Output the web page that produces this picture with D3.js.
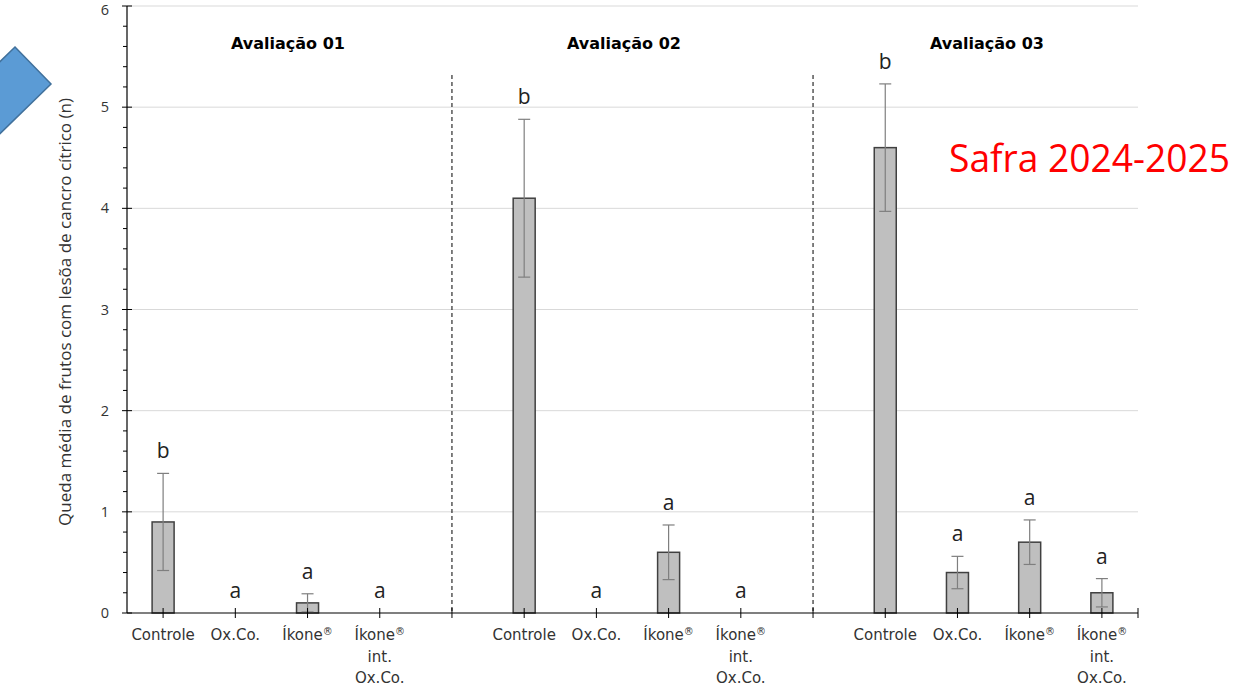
<!DOCTYPE html>
<html><head><meta charset="utf-8">
<script src="https://cdn.jsdelivr.net/npm/d3@7"></script>
<style>body{margin:0;background:#fff}svg{display:block}</style>
</head><body>
<svg id="chart" width="1254" height="691"></svg>
<script>
// ---- data ----
const groups = ["Avaliação 01", "Avaliação 02", "Avaliação 03"];
const treatments = ["Controle", "Ox.Co.", "Íkone®", "Íkone® int. Ox.Co."];
const treatmentLines = [["Controle"], ["Ox.Co."], ["Íkone®"], ["Íkone®", "int.", "Ox.Co."]];
const means01 = [0.9, 0, 0.1, 0];
const means02 = [4.1, 0, 0.6, 0];
const means03 = [4.6, 0.4, 0.7, 0.2];
const err01 = [0.48, 0, 0.09, 0];
const err02 = [0.78, 0, 0.27, 0];
const err03 = [0.63, 0.16, 0.22, 0.14];
const letters01 = ["b", "a", "a", "a"];
const letters02 = ["b", "a", "a", "a"];
const letters03 = ["b", "a", "a", "a"];
const yTicks = [0, 1, 2, 3, 4, 5, 6];
const yLabel = "Queda média de frutos com lesõa de cancro cítrico (n)";
const watermark = "Safra 2024-2025";

const meansAll = [means01, means02, means03];
const errAll = [err01, err02, err03];
const lettersAll = [letters01, letters02, letters03];

// ---- layout ----
const svg = d3.select("#chart");
const pLeft = 127, pRight = 1138, pTop = 6, pBottom = 613;

const slots = [];
groups.forEach((g, gi) => {
  treatments.forEach((t, ti) => slots.push(`${gi}-${ti}`));
  if (gi < groups.length - 1) slots.push(`gap${gi}`);
});
const x = d3.scaleBand().domain(slots).range([pLeft, pRight]).padding(0);
const y = d3.scaleLinear().domain([0, 6]).range([pBottom, pTop]);
const cx = k => x(k) + x.bandwidth() / 2;

const rows = [];
groups.forEach((g, gi) => treatments.forEach((t, ti) => rows.push({
  key: `${gi}-${ti}`, gi, ti, v: meansAll[gi][ti], e: errAll[gi][ti], l: lettersAll[gi][ti]
})));

// blue diamond shape
const sq = [[15, 47], [51, 84], [-23, 156], [-59, 119]];
svg.append("path").attr("d", d3.line()(sq) + "Z")
  .attr("fill", "#5B9BD5").attr("stroke", "#41719C").attr("stroke-width", 1.5);

// gridlines
svg.append("g").selectAll("line").data(yTicks.filter(d => d > 0)).join("line")
  .attr("x1", pLeft).attr("x2", pRight).attr("y1", d => y(d)).attr("y2", d => y(d))
  .attr("stroke", "#D9D9D9").attr("stroke-width", 1);

// dashed separators
svg.append("g").selectAll("line").data(slots.filter(s => s.startsWith("gap"))).join("line")
  .attr("x1", d => cx(d)).attr("x2", d => cx(d)).attr("y1", 75).attr("y2", pBottom)
  .attr("stroke", "#000").attr("stroke-width", 1).attr("stroke-dasharray", "4,3");

// bars
svg.append("g").selectAll("rect").data(rows.filter(d => d.v > 0)).join("rect")
  .attr("x", d => cx(d.key) - 11).attr("width", 22)
  .attr("y", d => y(d.v)).attr("height", d => y(0) - y(d.v))
  .attr("fill", "#BFBFBF").attr("stroke", "#404040").attr("stroke-width", 1.5);

// error bars
const eb = svg.append("g").attr("stroke", "#7F7F7F").attr("stroke-width", 1.2);
rows.filter(d => d.e > 0).forEach(d => {
  const c = cx(d.key);
  eb.append("line").attr("x1", c).attr("x2", c).attr("y1", y(d.v + d.e)).attr("y2", y(d.v - d.e));
  eb.append("line").attr("x1", c - 6).attr("x2", c + 6).attr("y1", y(d.v + d.e)).attr("y2", y(d.v + d.e));
  eb.append("line").attr("x1", c - 6).attr("x2", c + 6).attr("y1", y(d.v - d.e)).attr("y2", y(d.v - d.e));
});

// letters
svg.append("g").selectAll("text").data(rows).join("text")
  .attr("x", d => cx(d.key)).attr("y", d => y(d.v + d.e) - 15)
  .attr("text-anchor", "middle").attr("font-family", "Open Sans, sans-serif")
  .attr("font-size", 21).attr("fill", "#222").text(d => d.l);

// y axis
const ax = svg.append("g").attr("stroke", "#000");
ax.append("line").attr("x1", pLeft).attr("x2", pLeft).attr("y1", pTop).attr("y2", pBottom).attr("stroke-width", 1.2);
yTicks.forEach(t => ax.append("line").attr("x1", pLeft - 5).attr("x2", pLeft + 5).attr("y1", y(t)).attr("y2", y(t)));
d3.range(0, 30).filter(i => i % 5 !== 0).forEach(i => {
  const v = i * 0.2;
  ax.append("line").attr("x1", pLeft - 4).attr("x2", pLeft).attr("y1", y(v)).attr("y2", y(v));
});
svg.append("g").selectAll("text").data(yTicks).join("text")
  .attr("x", pLeft - 18).attr("y", d => Math.max(y(d) + 5, 15)).attr("text-anchor", "end")
  .attr("font-family", "Open Sans, sans-serif").attr("font-size", 14.5).attr("fill", "#333")
  .text(d => d);

// x axis
ax.append("line").attr("x1", pLeft).attr("x2", pRight).attr("y1", pBottom).attr("y2", pBottom).attr("stroke-width", 1.2);
slots.forEach(s => ax.append("line").attr("x1", cx(s)).attr("x2", cx(s)).attr("y1", pBottom - 5).attr("y2", pBottom + 5));
ax.append("line").attr("x1", pRight).attr("x2", pRight).attr("y1", pBottom - 5).attr("y2", pBottom + 5);

const xl = svg.append("g").attr("font-family", "DejaVu Sans, sans-serif").attr("font-size", 15)
  .attr("fill", "#333").attr("text-anchor", "middle");
rows.forEach(d => {
  treatmentLines[d.ti].forEach((ln, li) => {
    const t = xl.append("text").attr("x", cx(d.key)).attr("y", 640 + li * 21.5);
    if (ln.endsWith("®")) {
      t.append("tspan").text(ln.slice(0, -1));
      t.append("tspan").attr("font-size", 10).attr("dy", -5).text("®");
    } else {
      t.text(ln);
    }
  });
});

// group titles
const titleX = [288, 624, 987];
svg.append("g").selectAll("text").data(groups).join("text")
  .attr("x", (d, i) => titleX[i]).attr("y", 49).attr("text-anchor", "middle")
  .attr("font-family", "DejaVu Sans, sans-serif").attr("font-weight", "bold").attr("font-size", 16)
  .attr("fill", "#000").text(d => d);

// y label
svg.append("text").attr("transform", "translate(71,312) rotate(-90)")
  .attr("text-anchor", "middle").attr("font-family", "Open Sans, sans-serif")
  .attr("font-size", 16).attr("textLength", 428).attr("lengthAdjust", "spacingAndGlyphs")
  .attr("fill", "#333").text(yLabel);

// watermark text
svg.append("text").attr("x", 949).attr("y", 172)
  .attr("font-family", "Open Sans, sans-serif").attr("font-size", 38)
  .attr("textLength", 281).attr("lengthAdjust", "spacingAndGlyphs")
  .attr("fill", "#FF0000").text(watermark);
</script>
</body></html>
